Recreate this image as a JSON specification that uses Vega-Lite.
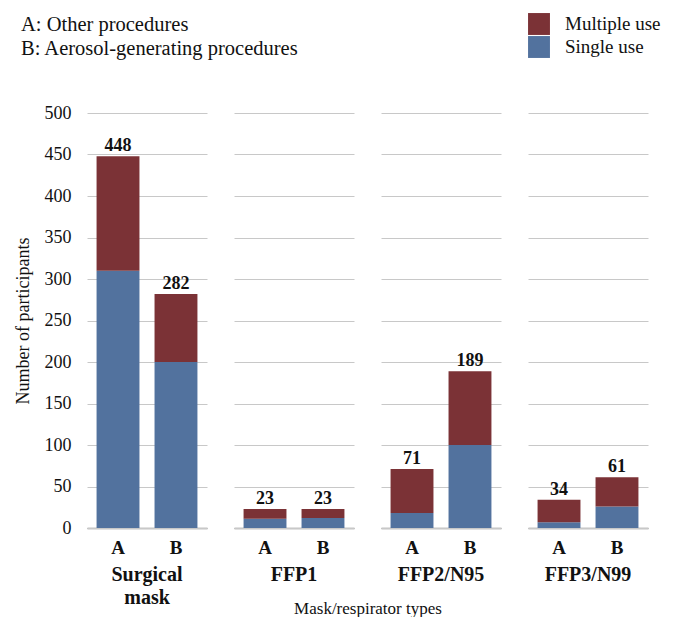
{
  "$schema": "https://vega.github.io/schema/vega-lite/v6.json",
  "background": "white",
  "padding": {"left": 14, "top": 13, "right": 10, "bottom": 0},
  "title": {
    "text": ["A: Other procedures", "B: Aerosol-generating procedures"],
    "anchor": "start",
    "frame": "bounds",
    "dx": 7,
    "font": "'Liberation Serif', 'DejaVu Serif', serif",
    "fontSize": 20.5,
    "fontWeight": "normal",
    "lineHeight": 24,
    "color": "#111",
    "offset": -46
  },
  "data": {
    "values": [
      {"mask": "Surgical mask", "proc": "A", "type": "Single use", "count": 310},
      {"mask": "Surgical mask", "proc": "A", "type": "Multiple use", "count": 138},
      {"mask": "Surgical mask", "proc": "B", "type": "Single use", "count": 200},
      {"mask": "Surgical mask", "proc": "B", "type": "Multiple use", "count": 82},
      {"mask": "FFP1", "proc": "A", "type": "Single use", "count": 11},
      {"mask": "FFP1", "proc": "A", "type": "Multiple use", "count": 12},
      {"mask": "FFP1", "proc": "B", "type": "Single use", "count": 12},
      {"mask": "FFP1", "proc": "B", "type": "Multiple use", "count": 11},
      {"mask": "FFP2/N95", "proc": "A", "type": "Single use", "count": 18},
      {"mask": "FFP2/N95", "proc": "A", "type": "Multiple use", "count": 53},
      {"mask": "FFP2/N95", "proc": "B", "type": "Single use", "count": 100},
      {"mask": "FFP2/N95", "proc": "B", "type": "Multiple use", "count": 89},
      {"mask": "FFP3/N99", "proc": "A", "type": "Single use", "count": 7},
      {"mask": "FFP3/N99", "proc": "A", "type": "Multiple use", "count": 27},
      {"mask": "FFP3/N99", "proc": "B", "type": "Single use", "count": 26},
      {"mask": "FFP3/N99", "proc": "B", "type": "Multiple use", "count": 35}
    ]
  },
  "facet": {
    "column": {
      "field": "mask",
      "type": "nominal",
      "sort": ["Surgical mask", "FFP1", "FFP2/N95", "FFP3/N99"],
      "title": "Mask/respirator types",
      "header": {
        "labelOrient": "bottom",
        "titleOrient": "bottom",
        "labelExpr": "split(datum.value, ' ')",
        "labelFont": "'Liberation Serif', 'DejaVu Serif', serif",
        "labelFontSize": 20,
        "labelFontWeight": "bold",
        "labelColor": "#111",
        "labelLineHeight": 23,
        "labelPadding": 8,
        "titleFont": "'Liberation Serif', 'DejaVu Serif', serif",
        "titleFontSize": 17,
        "titleFontWeight": "normal",
        "titleColor": "#111",
        "titlePadding": -17
      }
    }
  },
  "spacing": 27,
  "spec": {
    "width": 120,
    "height": 415,
    "layer": [
      {
        "mark": {"type": "bar"},
        "encoding": {
          "x": {
            "field": "proc",
            "type": "nominal",
            "scale": {"paddingInner": 0.26, "paddingOuter": 0.165},
            "axis": {
              "title": null,
              "labelAngle": 0,
              "labelFont": "'Liberation Serif', 'DejaVu Serif', serif",
              "labelFontSize": 19,
              "labelFontWeight": "bold",
              "labelColor": "#111",
              "labelPadding": 10,
              "ticks": false,
              "domainColor": "#888",
              "domainWidth": 1.5
            }
          },
          "y": {
            "field": "count",
            "type": "quantitative",
            "stack": "zero",
            "scale": {"domain": [0, 500], "nice": false},
            "axis": {
              "title": "Number of participants",
              "values": [0, 50, 100, 150, 200, 250, 300, 350, 400, 450, 500],
              "grid": true,
              "gridColor": "#c8c8c8",
              "domain": false,
              "ticks": false,
              "labelFont": "'Liberation Serif', 'DejaVu Serif', serif",
              "labelFontSize": 18,
              "labelColor": "#111",
              "labelPadding": 16,
              "titleFont": "'Liberation Serif', 'DejaVu Serif', serif",
              "titleFontSize": 18,
              "titleFontWeight": "normal",
              "titleColor": "#111",
              "titlePadding": 12
            }
          },
          "color": {
            "field": "type",
            "type": "nominal",
            "scale": {"domain": ["Multiple use", "Single use"], "range": ["#7b3236", "#52729e"]},
            "legend": {
              "title": null,
              "orient": "none",
              "legendX": 441,
              "legendY": -100,
              "symbolType": "square",
              "symbolSize": 480,
              "symbolStrokeWidth": 0,
              "labelFont": "'Liberation Serif', 'DejaVu Serif', serif",
              "labelFontSize": 19,
              "labelColor": "#111",
              "rowPadding": 1,
              "labelOffset": 15
            }
          },
          "order": {"field": "type", "sort": "descending"}
        }
      },
      {
        "transform": [
          {"aggregate": [{"op": "sum", "field": "count", "as": "total"}], "groupby": ["mask", "proc"]}
        ],
        "mark": {"type": "text", "baseline": "bottom", "dy": -1, "font": "'Liberation Serif', 'DejaVu Serif', serif", "fontSize": 18, "fontWeight": "bold", "color": "#111"},
        "encoding": {
          "x": {"field": "proc", "type": "nominal"},
          "y": {"field": "total", "type": "quantitative"},
          "text": {"field": "total", "type": "quantitative"}
        }
      }
    ]
  },
  "config": {"view": {"stroke": null}}
}
